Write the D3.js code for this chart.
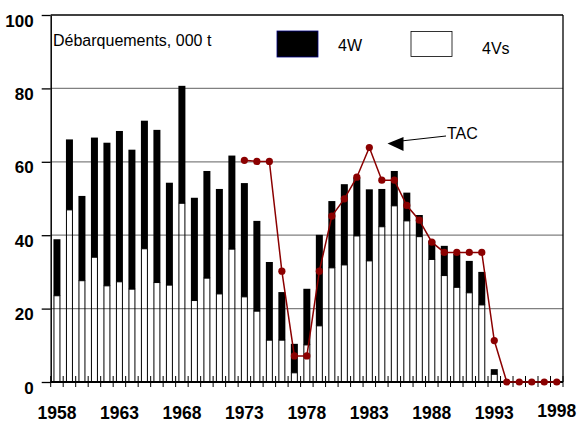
<!DOCTYPE html>
<html>
<head>
<meta charset="utf-8">
<script src="https://cdn.jsdelivr.net/npm/d3@7"></script>
<style>
  body { margin: 0; background: #fff; }
  svg { font-family: Arial, "Liberation Sans", sans-serif; }
</style>
</head>
<body>
<svg id="chart" width="577" height="423"></svg>
<script>
var years = d3.range(1958, 1999)

// landings, 000 t
var v4s = [23.5, 46.9, 27.6, 34.0, 26.2, 27.3, 25.3, 36.3, 27.1, 26.4, 48.7, 22.2, 28.3, 24.0, 36.2, 23.2, 19.3, 11.4, 11.4, 2.5,
           10.1, 15.3, 31.1, 31.9, 39.8, 33.0, 42.3, 48.0, 43.9, 39.6, 33.4, 29.0, 25.8, 24.3, 21.0, 2.1, 0, 0, 0, 0, 0]
var w4 = [15.4, 19.2, 23.1, 32.6, 39.0, 41.1, 38.0, 34.9, 41.6, 27.9, 32.0, 28.0, 29.2, 28.6, 25.5, 31.0, 24.6, 21.3, 13.1, 7.9,
          15.3, 24.8, 18.2, 22.0, 15.9, 19.5, 10.3, 9.5, 7.7, 5.9, 5.1, 8.1, 9.1, 8.7, 9.0, 1.4, 0, 0, 0, 0, 0]

var tacYears = d3.range(1973, 1999)
var tac = [60.4, 60.1, 60.1, 30.2, 7.1, 7.1, 30.2, 45.2, 49.9, 55.8, 63.9, 55.0, 55.0, 48.1, 44.1, 38.1, 35.3, 35.3, 35.3, 35.3,
           11.3, 0, 0, 0, 0, 0]

var yTicks = [0, 20, 40, 60, 80, 100]
var xLabels = [1958, 1963, 1968, 1973, 1978, 1983, 1988, 1993, 1998]

var svg = d3.select("#chart")
var pLeft = 50.7, pRight = 563, pTop = 15, pBottom = 382

var x = d3.scaleBand().domain(years).range([pLeft, pRight]).padding(0)
var y = d3.scaleLinear().domain([0, 100]).range([pBottom, pTop])
var bw = x.bandwidth()
var barW = 6

// grid
svg.append("g")
  .selectAll("line")
  .data(yTicks.filter(function(d) { return d > 0 && d < 100 }))
  .join("line")
  .attr("x1", pLeft).attr("x2", pRight)
  .attr("y1", function(d) { return y(d) }).attr("y2", function(d) { return y(d) })
  .attr("stroke", "#808080").attr("stroke-width", 1.3)

// stacked bars (4Vs is only outlined, grid shows through)
var rows = years.map(function(yr, i) { return {year: yr, v4s: v4s[i], w4: w4[i]} })
var stack = d3.stack().keys(["v4s", "w4"])(rows)

svg.append("g")
  .selectAll("rect")
  .data(stack[0])
  .join("rect")
  .attr("x", function(d) { return x(d.data.year) + (bw - barW) / 2 })
  .attr("width", barW)
  .attr("y", function(d) { return y(d[1]) })
  .attr("height", function(d) { return y(d[0]) - y(d[1]) })
  .attr("fill", "none")
  .attr("stroke", function(d) { return d[1] > d[0] ? "#000" : "none" })
  .attr("stroke-width", 1)

svg.append("g")
  .selectAll("rect")
  .data(stack[1])
  .join("rect")
  .attr("x", function(d) { return x(d.data.year) + (bw - barW) / 2 - 0.5 })
  .attr("width", barW + 1)
  .attr("y", function(d) { return y(d[1]) })
  .attr("height", function(d) { return y(d[0]) - y(d[1]) })
  .attr("fill", "#000")

// frame
svg.append("line").attr("x1", pLeft).attr("x2", pRight).attr("y1", pTop).attr("y2", pTop)
  .attr("stroke", "#000").attr("stroke-width", 1.3)
svg.append("line").attr("x1", pRight).attr("x2", pRight).attr("y1", pTop).attr("y2", pBottom)
  .attr("stroke", "#000").attr("stroke-width", 1.3)

// y axis
var yAxis = svg.append("g")
  .attr("transform", "translate(" + pLeft + ",0)")
  .call(d3.axisLeft(y).tickValues(yTicks).tickSize(9).tickPadding(8).tickSizeOuter(0))
yAxis.select(".domain").attr("stroke-width", 1.5)
yAxis.selectAll(".tick line").attr("stroke-width", 1.3)
yAxis.selectAll("text")
  .attr("font-size", 17).attr("font-weight", "bold").attr("fill", "#000")
  .attr("dy", "0.65em")

// x axis
svg.append("line").attr("x1", pLeft).attr("x2", pRight).attr("y1", pBottom).attr("y2", pBottom)
  .attr("stroke", "#000").attr("stroke-width", 1.8)
svg.append("g")
  .selectAll("line")
  .data(years.concat([1999]))
  .join("line")
  .attr("x1", function(d) { return d == 1999 ? pRight : x(d) })
  .attr("x2", function(d) { return d == 1999 ? pRight : x(d) })
  .attr("y1", pBottom - 6).attr("y2", pBottom + 5)
  .attr("stroke", "#000").attr("stroke-width", 1)

var xAxis = svg.append("g")
  .attr("transform", "translate(0," + pBottom + ")")
  .call(d3.axisBottom(x).tickValues(xLabels).tickSize(0).tickPadding(25))
xAxis.select(".domain").remove()
xAxis.selectAll("text")
  .attr("font-size", 17.5).attr("font-weight", "bold").attr("fill", "#000")
  .attr("dy", function(d) { return d == 1998 ? "0.55em" : "0.71em" })

// TAC line
var tacColor = "#8b0000"
var pts = tacYears.map(function(yr, i) { return {year: yr, v: tac[i]} })
var line = d3.line()
  .x(function(d) { return x(d.year) + bw / 2 })
  .y(function(d) { return y(d.v) })

svg.append("path")
  .datum(pts)
  .attr("d", line)
  .attr("fill", "none")
  .attr("stroke", tacColor)
  .attr("stroke-width", 1.5)

svg.append("g")
  .selectAll("circle")
  .data(pts)
  .join("circle")
  .attr("cx", function(d) { return x(d.year) + bw / 2 })
  .attr("cy", function(d) { return y(d.v) })
  .attr("r", 3.6)
  .attr("fill", tacColor)

// TAC annotation
svg.append("line")
  .attr("x1", 446).attr("y1", 136).attr("x2", 401).attr("y2", 141)
  .attr("stroke", "#000").attr("stroke-width", 1)
svg.append("path")
  .attr("d", "M387.5,143.5 L403.5,137 L403.5,151 Z")
  .attr("fill", "#000")
svg.append("text")
  .attr("x", 447).attr("y", 138.5)
  .attr("font-size", 16)
  .text("TAC")

// legend
svg.append("text")
  .attr("x", 53).attr("y", 45.5)
  .attr("font-size", 16)
  .text("Débarquements, 000 t")
svg.append("rect")
  .attr("x", 277).attr("y", 31).attr("width", 41).attr("height", 26)
  .attr("fill", "#000").attr("stroke", "#000080").attr("stroke-width", 0.8)
svg.append("text")
  .attr("x", 338).attr("y", 50.5)
  .attr("font-size", 16)
  .text("4W")
svg.append("rect")
  .attr("x", 411).attr("y", 31.5).attr("width", 41).attr("height", 25)
  .attr("fill", "#fff").attr("stroke", "#000").attr("stroke-width", 0.8)
svg.append("text")
  .attr("x", 482).attr("y", 54)
  .attr("font-size", 16)
  .text("4Vs")
</script>
</body>
</html>
